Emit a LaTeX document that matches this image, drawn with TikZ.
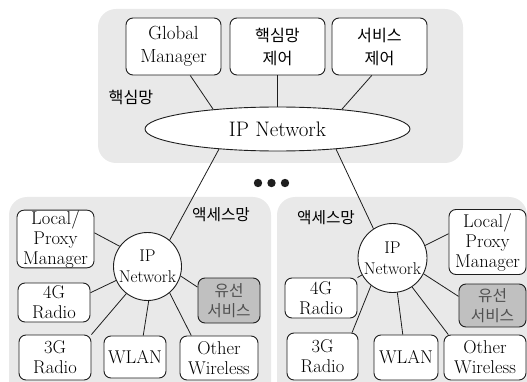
\documentclass[tikz,border=0pt]{standalone}
\usepackage{fontspec}
\usepackage{tikz}
\usepackage{xcolor}
\usetikzlibrary{shapes.geometric, positioning, calc}
\newfontfamily\kr[Scale=0.85]{Noto Sans CJK KR}
\definecolor{Net_PanelGray}{HTML}{E9E9E9}
\definecolor{Net_WiredGray}{HTML}{C0C0C0}
\definecolor{Net_TextGray}{HTML}{505050}
\definecolor{Net_Black}{HTML}{1E1E1E}

\begin{document}
\begin{tikzpicture}[x=1pt, y=-1pt,
  panel/.style={fill=Net_PanelGray, rounded corners=18pt},
  box/.style={draw=Net_Black, line width=0.9pt, fill=white, rounded corners=7pt,
    inner sep=0pt, align=center},
  wired/.style={box, fill=Net_WiredGray, text=Net_TextGray},
  topfont/.style={font=\fontsize{19}{23}\selectfont},
  accfont/.style={font=\fontsize{18.5}{20}\selectfont},
  link/.style={draw=Net_Black, line width=0.8pt}]
\clip (0,0) rectangle (527,382);
% --- Core network panel ---
\fill[panel] (98,9) rectangle (463,163);
\node[box, topfont, minimum width=95pt, minimum height=57pt] (gm) at (173.5,46.5) {Global\\Manager};
\node[box, topfont, minimum width=95pt, minimum height=57pt] (cctl) at (277.5,46.5) {\kr 핵심망\\\kr 제어};
\node[box, topfont, minimum width=95pt, minimum height=57pt] (sctl) at (379.5,46.5) {\kr 서비스\\\kr 제어};
\node[topfont] (corelbl) at (131,97) {\kr 핵심망};
\node[ellipse, draw=Net_Black, line width=0.9pt, fill=white, inner sep=0pt,
  minimum width=265pt, minimum height=44pt, font=\fontsize{21}{24}\selectfont] (core) at (277.5,129) {IP Network};
\draw[link] (gm.-60) -- (core.163);
\draw[link] (cctl.south) -- (core.north);
\draw[link] (sctl.-105) -- (core.17);
% more access networks
\foreach \x in {258,271.5,285} {
  \fill[Net_Black] (\x,183) circle (4.2pt);
}
% --- Access network (left) ---
\fill[panel] (9,197) rectangle (271,400);
\node[accfont] (llbl) at (221,215) {\kr 액세스망};
\node[circle, draw=Net_Black, line width=0.9pt, fill=white, inner sep=0pt,
  minimum size=68pt, align=center, font=\fontsize{17}{21}\selectfont] (lnet) at (147.5,266.5) {IP\\Network};
\node[box, accfont, minimum width=77pt, minimum height=56pt] (lmgr) at (55.5,239) {Local/\\Proxy\\Manager};
\node[box, accfont, minimum width=72pt, minimum height=39pt] (l4g) at (54,302.5) {4G\\Radio};
\node[box, accfont, minimum width=72pt, minimum height=45pt] (l3g) at (55,357.5) {3G\\Radio};
\node[box, accfont, minimum width=62pt, minimum height=42pt] (lwlan) at (135,357) {WLAN};
\node[box, accfont, minimum width=78pt, minimum height=44pt] (lother) at (219,358) {Other\\Wireless};
\node[wired, accfont, minimum width=62pt, minimum height=45pt] (lwired) at (229,300.5) {\kr 유선\\\kr 서비스};
\draw[link] (lnet.144) -- (lmgr.9);
\draw[link] (lnet.204) -- (l4g.15);
\draw[link] (lnet.232) -- (l3g.north east);
\draw[link] (lnet.-88) -- (lwlan.69);
\draw[link] (lnet.-50) -- (lother.141);
\draw[link] (lnet.-16) -- (lwired.157);
\draw[link] (core.-161) -- (lnet.50);
% --- Access network (right) ---
\fill[panel] (277,197) rectangle (527,400);
\node[accfont] (rlbl) at (326,218) {\kr 액세스망};
\node[circle, draw=Net_Black, line width=0.9pt, fill=white, inner sep=0pt,
  minimum size=69pt, align=center, font=\fontsize{17}{21}\selectfont] (rnet) at (392.5,258) {IP\\Network};
\node[box, accfont, minimum width=77pt, minimum height=65pt] (rmgr) at (487.5,242) {Local/\\Proxy\\Manager};
\node[wired, accfont, minimum width=67pt, minimum height=43pt] (rwired) at (492.5,305.5) {\kr 유선\\\kr 서비스};
\node[box, accfont, minimum width=72pt, minimum height=40pt] (r4g) at (321,298) {4G\\Radio};
\node[box, accfont, minimum width=71pt, minimum height=47pt] (r3g) at (322.5,356.5) {3G\\Radio};
\node[box, accfont, minimum width=64pt, minimum height=45pt] (rwlan) at (406,357.5) {WLAN};
\node[box, accfont, minimum width=82pt, minimum height=45pt] (rother) at (485,357.5) {Other\\Wireless};
\draw[link] (rnet.21) -- (rmgr.168);
\draw[link] (rnet.-27) -- (rwired.165);
\draw[link] (rnet.-56) -- (rother.148);
\draw[link] (rnet.-82) -- (rwlan.98);
\draw[link] (rnet.209) -- (r4g.north east);
\draw[link] (rnet.232) -- (r3g.39);
\draw[link] (core.-19) -- (rnet.123);
\end{tikzpicture}
\end{document}
